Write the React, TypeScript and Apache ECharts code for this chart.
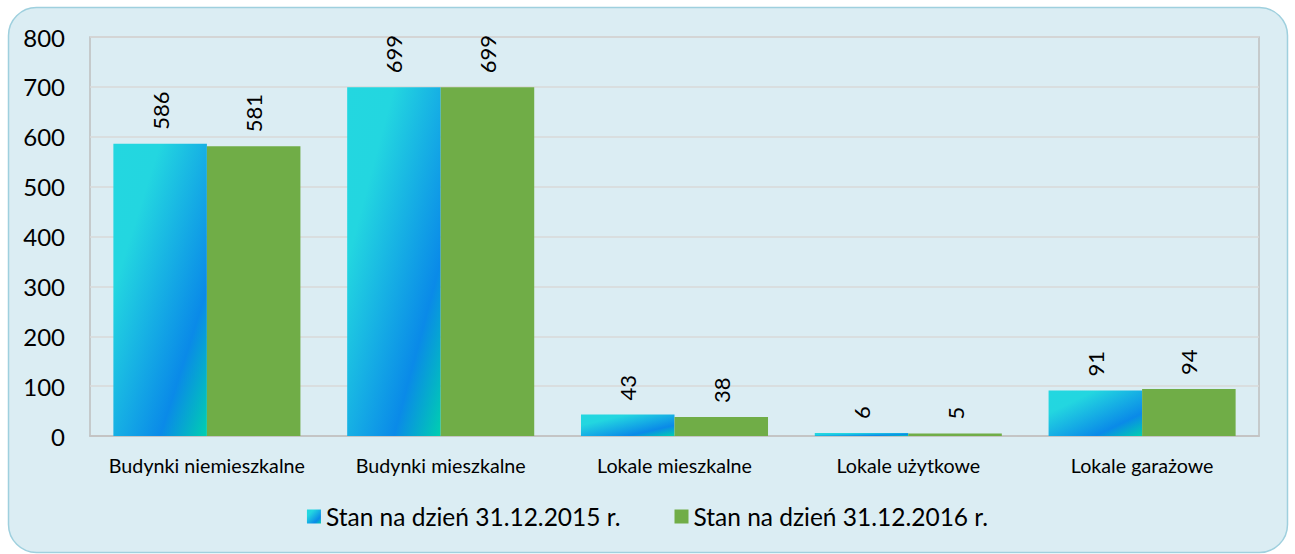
import React, { useEffect, useRef } from "react";
import * as echarts from "echarts";

const categories = [
  "Budynki niemieszkalne",
  "Budynki mieszkalne",
  "Lokale mieszkalne",
  "Lokale użytkowe",
  "Lokale garażowe",
];
const seriesNames = ["Stan na dzień 31.12.2015 r.", "Stan na dzień 31.12.2016 r."];
const values2015 = [586, 699, 43, 6, 91];
const values2016 = [581, 699, 38, 5, 94];
const yTicks = { min: 0, max: 800, interval: 100 };

const FONT = "Lato, 'Noto Sans', sans-serif";

export default function App() {
  const ref = useRef<HTMLDivElement>(null);
  useEffect(() => {
    if (!ref.current) return;
    const chart = echarts.init(ref.current, undefined, { renderer: "svg" });
    const blueGrad = new echarts.graphic.LinearGradient(0, 0, 1, 1, [
      { offset: 0, color: "#23D7E0" },
      { offset: 0.25, color: "#23D6E0" },
      { offset: 0.75, color: "#0A8AE8" },
      { offset: 1, color: "#00CFB0" },
    ]);
    const green = "#70AD47";
    const label = {
      show: true,
      position: "top",
      rotate: 90,
      align: "left",
      verticalAlign: "middle",
      distance: 14,
      fontFamily: FONT,
      fontSize: 22,
      color: "#000",
    };
    chart.setOption({
      animation: false,
      backgroundColor: "#fff",
      textStyle: { fontFamily: FONT },
      graphic: [
        {
          type: "rect",
          z: -10,
          silent: true,
          shape: { x: 8.5, y: 7.5, width: 1279, height: 545, r: 28 },
          style: { fill: "#DBEDF3", stroke: "#9FD0DE", lineWidth: 1.5 },
        },
      ],
      grid: {
        left: 90,
        top: 37,
        right: 36,
        bottom: 118,
        show: true,
        borderColor: "#BFBFBF",
        borderWidth: 1.5,
        backgroundColor: "transparent",
      },
      legend: {
        bottom: 20,
        left: "center",
        itemWidth: 14,
        itemHeight: 14,
        itemGap: 54,
        icon: "rect",
        textStyle: { fontFamily: FONT, fontSize: 24.5, color: "#000" },
        data: seriesNames,
      },
      xAxis: {
        type: "category",
        data: categories,
        axisLine: { show: true, lineStyle: { color: "#BFBFBF", width: 1.5 } },
        axisTick: { show: false },
        axisLabel: {
          interval: 0,
          hideOverlap: false,
          fontFamily: FONT,
          fontSize: 19.7,
          color: "#000",
          margin: 19,
        },
      },
      yAxis: {
        type: "value",
        min: yTicks.min,
        max: yTicks.max,
        interval: yTicks.interval,
        axisLine: { show: false },
        axisTick: { show: false },
        splitLine: { lineStyle: { color: "#D9D9D9", width: 1.5 } },
        axisLabel: { fontFamily: FONT, fontSize: 24, color: "#000", margin: 25 },
      },
      series: [
        {
          name: seriesNames[0],
          type: "bar",
          data: values2015,
          barGap: "0%",
          barCategoryGap: "20%",
          itemStyle: { color: blueGrad },
          label,
        },
        {
          name: seriesNames[1],
          type: "bar",
          data: values2016,
          barGap: "0%",
          barCategoryGap: "20%",
          itemStyle: { color: green },
          label,
        },
      ],
    });
    return () => chart.dispose();
  }, []);
  return (
    <div
      ref={ref}
      style={{ position: "absolute", left: 0, top: 0, width: 1295, height: 554 }}
    />
  );
}
